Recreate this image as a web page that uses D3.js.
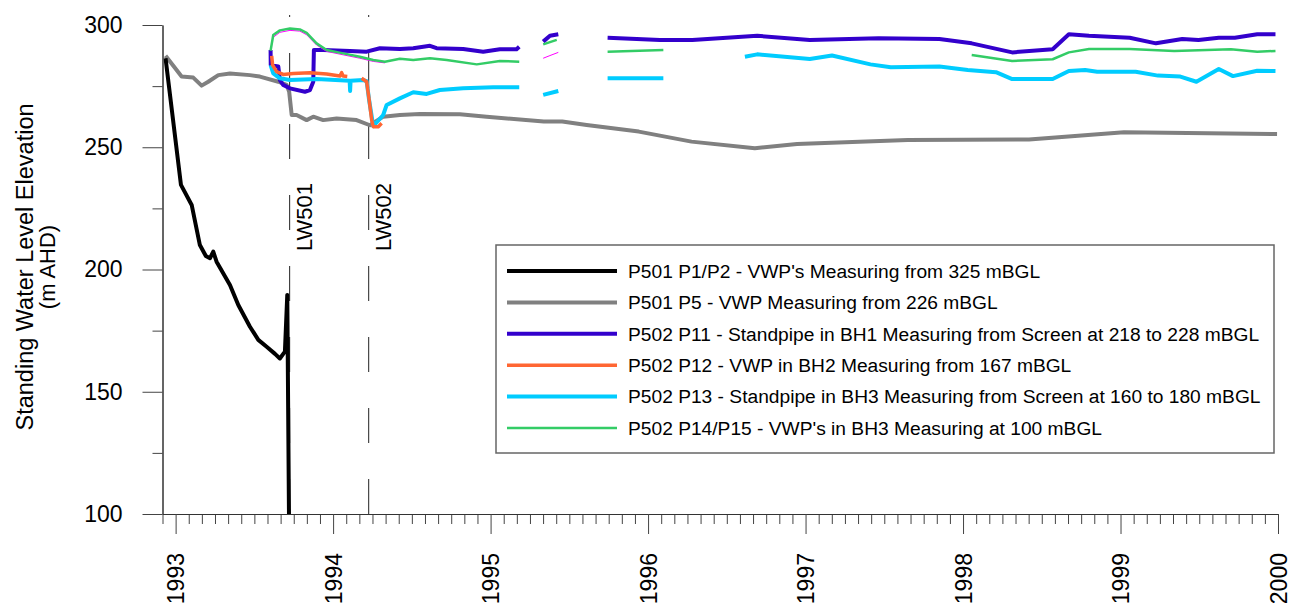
<!DOCTYPE html>
<html>
<head>
<meta charset="utf-8">
<script src="https://cdn.jsdelivr.net/npm/d3@7"></script>
<style>
  html, body { margin: 0; padding: 0; background: #fff; }
  svg { display: block; font-family: "Liberation Sans", Arial, sans-serif; }
</style>
</head>
<body>
<svg id="chart" width="1297" height="603"></svg>
<script>
// ---------------- DATA (decimal year, m AHD) ----------------
const yearTicks = [1993, 1994, 1995, 1996, 1997, 1998, 1999, 2000];
const yMajorTicks = [100, 150, 200, 250, 300];
const yMinorTicks = [125, 175, 225, 275];
const events = [
  { name: "LW501", year: 1993.724 },
  { name: "LW502", year: 1994.226 }
];

const p501_p1p2 = [
  [1992.936, 286.4], [1993.034, 234.6], [1993.102, 226.4], [1993.154, 210.0],
  [1993.192, 205.5], [1993.218, 204.6], [1993.239, 207.3], [1993.260, 203.2],
  [1993.345, 193.7], [1993.398, 185.5], [1993.472, 176.6], [1993.525, 171.2],
  [1993.578, 168.4], [1993.631, 165.5], [1993.662, 163.6], [1993.694, 166.4],
  [1993.709, 189.6], [1993.721, 90.0]
];

const p501_p5 = [
  [1992.936, 287.4], [1993.038, 278.9], [1993.112, 278.5], [1993.165, 275.2],
  [1993.207, 276.8], [1993.271, 279.5], [1993.345, 280.2], [1993.472, 279.5],
  [1993.535, 278.9], [1993.652, 276.8], [1993.705, 275.5], [1993.721, 272.7],
  [1993.737, 263.2], [1993.768, 263.2], [1993.832, 261.1], [1993.874, 262.5],
  [1993.937, 261.1], [1994.022, 261.8], [1994.149, 261.1], [1994.234, 259.0],
  [1994.318, 262.5], [1994.424, 263.2], [1994.551, 263.6], [1994.805, 263.5],
  [1994.975, 262.5], [1995.338, 260.5], [1995.455, 260.5], [1995.610, 259.1],
  [1995.941, 256.4], [1996.276, 252.3], [1996.678, 249.6], [1996.946, 251.3],
  [1997.649, 253.0], [1998.419, 253.2], [1998.586, 254.0], [1999.022, 256.1],
  [1999.994, 255.4]
];

const p502_p11 = [
  [1993.603, 289.8], [1993.604, 283.6], [1993.652, 283.0], [1993.662, 277.5],
  [1993.683, 275.5], [1993.726, 274.1], [1993.821, 272.7], [1993.853, 273.4],
  [1993.874, 276.8], [1993.878, 289.8], [1993.937, 289.8], [1994.107, 289.4],
  [1994.213, 289.1], [1994.297, 290.5], [1994.424, 290.2], [1994.509, 290.5],
  [1994.615, 291.5], [1994.657, 290.5], [1994.826, 290.2], [1994.953, 289.1],
  [1995.059, 290.1], [1995.165, 290.1], [1995.182, 291.1], [1995.25, null],
  [1995.334, 293.2], [1995.377, 295.6], [1995.430, 296.2], [1995.6, null],
  [1995.743, 294.8], [1996.076, 293.9], [1996.281, 293.9], [1996.693, 295.6],
  [1997.027, 293.9], [1997.464, 294.6], [1997.850, 294.3], [1998.055, 292.5],
  [1998.312, 288.8], [1998.569, 290.1], [1998.672, 296.2], [1998.800, 295.6],
  [1999.058, 294.8], [1999.225, 292.5], [1999.392, 294.3], [1999.495, 293.9],
  [1999.624, 294.8], [1999.726, 294.8], [1999.868, 296.2], [1999.984, 296.2]
];

const p502_p12 = [
  [1993.610, 287.4], [1993.616, 283.6], [1993.641, 280.9], [1993.683, 279.8],
  [1993.747, 280.2], [1993.853, 280.5], [1993.959, 280.0], [1994.043, 279.1],
  [1994.054, 280.5], [1994.064, 279.1], [1994.090, 278.9], [1994.13, null],
  [1994.181, 278.2], [1994.213, 276.8], [1994.229, 269.3], [1994.245, 261.1],
  [1994.255, 258.4], [1994.287, 258.4], [1994.308, 259.8]
];

const p502_p13 = [
  [1993.603, 283.6], [1993.620, 280.2], [1993.662, 278.2], [1993.726, 277.5],
  [1993.895, 277.9], [1994.105, 277.2], [1994.108, 273.0], [1994.111, 277.2],
  [1994.191, 277.5], [1994.213, 277.0], [1994.227, 270.0], [1994.255, 258.6],
  [1994.318, 263.2], [1994.340, 267.3], [1994.424, 270.0], [1994.509, 272.5],
  [1994.594, 271.8], [1994.678, 273.4], [1994.826, 274.1], [1995.017, 274.5],
  [1995.182, 274.5], [1995.25, null],
  [1995.334, 271.4], [1995.430, 273.0], [1995.6, null],
  [1995.743, 278.2], [1996.097, 278.2], [1996.3, null],
  [1996.615, 287.0], [1996.693, 288.0], [1997.027, 286.1], [1997.168, 287.5],
  [1997.412, 283.9], [1997.541, 282.7], [1997.850, 283.0], [1998.030, 281.6],
  [1998.209, 280.7], [1998.312, 277.9], [1998.569, 277.9], [1998.672, 281.2],
  [1998.775, 281.6], [1998.852, 280.9], [1999.096, 280.9], [1999.238, 279.3],
  [1999.380, 278.9], [1999.482, 276.8], [1999.624, 282.0], [1999.714, 279.1],
  [1999.868, 281.3], [1999.984, 281.2]
];

const p502_p14 = [
  [1993.603, 289.5], [1993.620, 295.9], [1993.662, 297.8], [1993.726, 298.6],
  [1993.789, 298.2], [1993.832, 296.8], [1993.895, 292.5], [1993.959, 289.8],
  [1994.064, 288.4], [1994.170, 287.0], [1994.255, 285.7], [1994.329, 285.0],
  [1994.424, 286.2], [1994.509, 285.7], [1994.615, 286.4], [1994.721, 285.7],
  [1994.912, 283.9], [1995.059, 285.3], [1995.182, 285.0], [1995.25, null],
  [1995.334, 292.1], [1995.420, 293.9], [1995.6, null],
  [1995.743, 289.1], [1996.097, 289.8], [1996.5, null],
  [1998.055, 287.7], [1998.312, 285.3], [1998.569, 286.0], [1998.672, 288.8],
  [1998.800, 290.2], [1999.058, 290.2], [1999.341, 289.4], [1999.701, 290.1],
  [1999.868, 289.1], [1999.984, 289.4]
];

const p502_p15 = [
  [1993.620, 295.0], [1993.662, 297.0], [1993.726, 297.8], [1993.789, 297.5],
  [1993.832, 296.0], [1993.895, 291.8], [1993.959, 289.2], [1994.064, 287.8],
  [1994.170, 286.4], [1994.255, 285.1], [1994.329, 284.5], [1994.9, null],
  [1995.334, 286.4], [1995.377, 287.5], [1995.430, 288.8]
];

const legendLabels = [
  "P501 P1/P2 - VWP's Measuring from 325 mBGL",
  "P501 P5 - VWP Measuring from 226 mBGL",
  "P502 P11 - Standpipe in BH1 Measuring from Screen at 218 to 228 mBGL",
  "P502 P12 - VWP in BH2 Measuring from 167 mBGL",
  "P502 P13 - Standpipe in BH3 Measuring from Screen at 160 to 180 mBGL",
  "P502 P14/P15 - VWP's in BH3 Measuring at 100 mBGL"
];

// ---------------- CHART ----------------
(function () {
const svg = d3.select("#chart");
const pLeft = 162.5, pRight = 1278, pTop = 25, pBottom = 514;

const x = d3.scaleLinear().domain([1992 + 11 / 12, 2000]).range([pLeft, pRight]);
const y = d3.scaleLinear().domain([100, 300]).range([pBottom, pTop]);

svg.append("defs").append("clipPath").attr("id", "clip")
  .append("rect").attr("x", pLeft).attr("y", 0).attr("width", pRight - pLeft).attr("height", pBottom);

// event dashed lines
const ev = svg.append("g");
events.forEach(e => {
  ev.append("line")
    .attr("x1", x(e.year)).attr("x2", x(e.year))
    .attr("y1", 15).attr("y2", pBottom)
    .attr("stroke", "#222").attr("stroke-width", 1)
    .attr("stroke-dasharray", "35,36").attr("stroke-dashoffset", 33);
  ev.append("text")
    .attr("transform", `translate(${x(e.year) + 22},183) rotate(-90)`)
    .attr("text-anchor", "end")
    .attr("font-size", 22)
    .attr("fill", "#000")
    .text(e.name);
});

// series
const series = [
  { data: p501_p5, color: "#808080", width: 4 },
  { data: p501_p1p2, color: "#000000", width: 4 },
  { data: p502_p11, color: "#3300CC", width: 4 },
  { data: p502_p13, color: "#00CCFF", width: 4 },
  { data: p502_p12, color: "#FF6633", width: 3.5 },
  { data: p502_p15, color: "#FF00FF", width: 1 },
  { data: p502_p14, color: "#33CC66", width: 2.5 }
];
const line = d3.line()
  .defined(d => d[1] !== null)
  .x(d => x(d[0])).y(d => y(d[1]));

const lines = svg.append("g").attr("clip-path", "url(#clip)");
series.forEach(s => {
  lines.append("path").datum(s.data)
    .attr("fill", "none").attr("stroke", s.color)
    .attr("stroke-width", s.width)
    .attr("stroke-linejoin", "round").attr("stroke-linecap", "butt")
    .attr("d", line);
});

// axes
const months = [];
for (let yr = 1992; yr < 2000; yr++) {
  for (let m = 0; m < 12; m++) {
    const v = yr + m / 12;
    if (v >= 1992 + 11 / 12 - 1e-9 && m !== 0) months.push(v);
  }
}
svg.append("g").attr("transform", `translate(0,${pBottom})`)
  .call(d3.axisBottom(x).tickValues(months).tickSize(10).tickSizeOuter(0).tickFormat(""));
const xMajor = svg.append("g").attr("transform", `translate(0,${pBottom})`)
  .call(d3.axisBottom(x).tickValues(yearTicks).tickSize(20).tickSizeOuter(0).tickFormat(d3.format("d")));
xMajor.selectAll("text")
  .attr("transform", "rotate(-90)")
  .attr("x", -39).attr("y", 0).attr("dy", "0.35em")
  .attr("text-anchor", "end")
  .attr("font-size", 23).attr("fill", "#000")
  .attr("font-family", "Liberation Sans, Arial, sans-serif");

svg.append("g").attr("transform", `translate(${pLeft},0)`)
  .call(d3.axisLeft(y).tickValues(yMinorTicks).tickSize(10).tickSizeOuter(0).tickFormat(""));
const yMajor = svg.append("g").attr("transform", `translate(${pLeft},0)`)
  .call(d3.axisLeft(y).tickValues(yMajorTicks).tickSize(20).tickSizeOuter(0));
yMajor.selectAll("text")
  .attr("x", -40).attr("font-size", 23).attr("fill", "#000")
  .attr("font-family", "Liberation Sans, Arial, sans-serif");

svg.selectAll(".domain").attr("stroke", "#333");
svg.selectAll(".tick line").attr("stroke", "#444");

// y axis title
const yt = svg.append("g").attr("transform", "translate(0,267)");
yt.append("text").attr("transform", "translate(33,0) rotate(-90)")
  .attr("text-anchor", "middle").attr("font-size", 23.5).text("Standing Water Level Elevation");
yt.append("text").attr("transform", "translate(55,0) rotate(-90)")
  .attr("text-anchor", "middle").attr("font-size", 22).text("(m AHD)");

// legend
const lg = svg.append("g");
lg.append("rect").attr("x", 496).attr("y", 245).attr("width", 778).attr("height", 208)
  .attr("fill", "#fff").attr("stroke", "#666").attr("stroke-width", 1.5);
const legendColors = ["#000000", "#808080", "#3300CC", "#FF6633", "#00CCFF", "#33CC66"];
const legendWidths = [4, 4, 4, 3.5, 4, 2.5];
legendLabels.forEach((t, i) => {
  const yy = 271 + i * 31.4;
  lg.append("line").attr("x1", 507).attr("x2", 617).attr("y1", yy).attr("y2", yy)
    .attr("stroke", legendColors[i]).attr("stroke-width", legendWidths[i]);
  lg.append("text").attr("x", 628).attr("y", yy).attr("dy", "0.35em")
    .attr("font-size", 19.2).attr("fill", "#000").text(t);
});
})();
</script>
</body>
</html>
